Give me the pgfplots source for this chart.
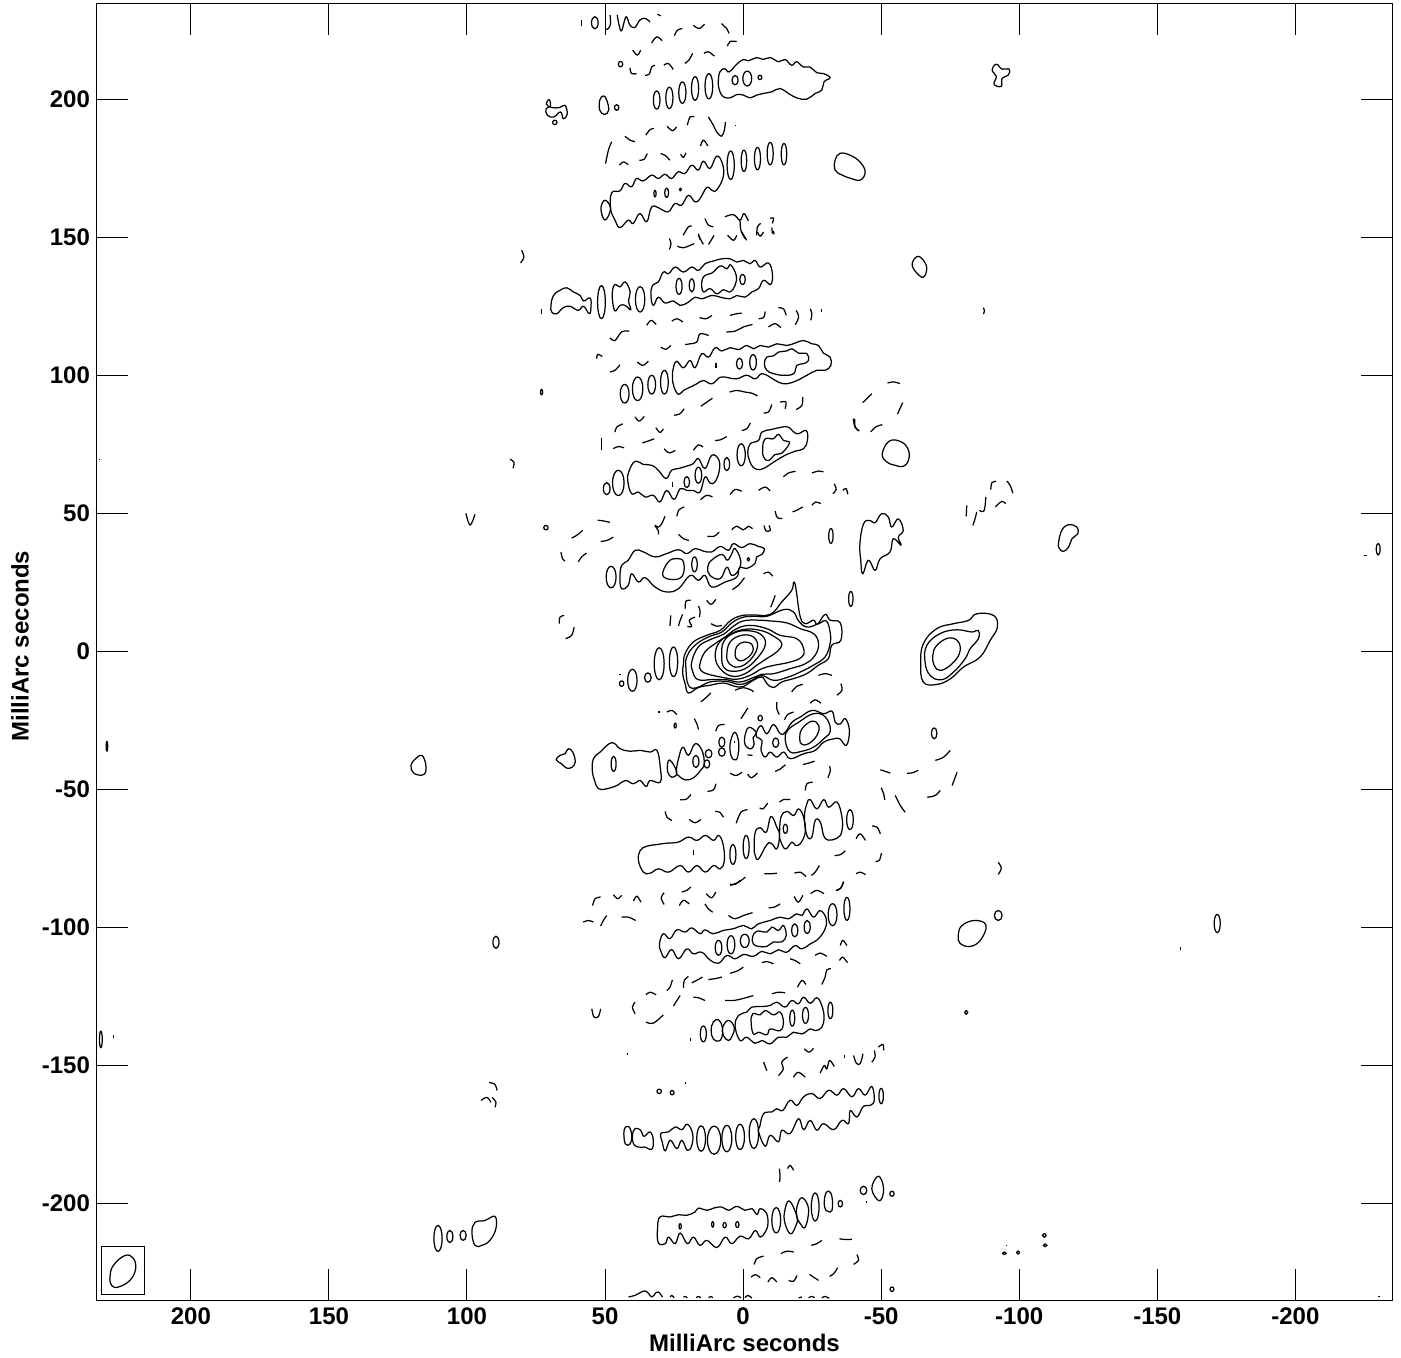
\documentclass[border=0pt]{standalone}
\usepackage{fontspec}
\setmainfont{Liberation Sans}
\usepackage{pgfplots}
\pgfplotsset{compat=1.18}
\tikzset{ct/.style={black,line width=0.62pt,line join=round}}
% closed contour / four point ellipse / open (negative, broken) contour
\newcommand{\ccc}[1]{\addplot[ct,smooth cycle,tension=0.7] coordinates {#1};}
\newcommand{\eee}[1]{\addplot[ct,smooth cycle,tension=1] coordinates {#1};}
\newcommand{\ooo}[1]{\addplot[ct,smooth,tension=0.6] coordinates {#1};}
\begin{document}
\begin{tikzpicture}
\path[use as bounding box] (-48.5pt,-28.5pt) rectangle ++(700.5pt,678.5pt);
\begin{axis}[
    at={(0pt,0pt)},anchor=south west,
    scale only axis,
    width=647.5pt,
    height=648pt,
    x dir=reverse,
    xmin=-235,xmax=234,
    ymin=-235,ymax=234.5,
    xtick={-200,-150,-100,-50,0,50,100,150,200},
    ytick={-200,-150,-100,-50,0,50,100,150,200},
    tick align=inside,
    tick pos=both,
    major tick length=15.5pt,
    tick style={black,line width=0.5pt},
    axis line style={line width=0.5pt},
    minor tick num=0,
    clip=true,
    /pgf/number format/assume math mode=true,
    /pgf/number format/1000 sep={},
    tick label style={font=\bfseries\fontsize{12}{14}\selectfont},
    x tick label style={yshift=-0.5pt},
    every axis x label/.style={at={(axis description cs:0.5,0)},anchor=center,yshift=-21.5pt,font=\bfseries\fontsize{12}{14}\selectfont},
    every axis y label/.style={at={(axis description cs:0,0.5)},rotate=90,anchor=center,yshift=38.5pt,xshift=3pt,font=\bfseries\fontsize{12}{14}\selectfont},
    xlabel={MilliArc seconds},
    ylabel={MilliArc seconds},
]
% beam
\addplot[black,line width=0.4pt] coordinates {(232.4,-215.5)(216.7,-215.5)(216.7,-233)(232.4,-233)(232.4,-215.5)};
\ccc{(229.3,-226.7)(228.1,-222.5)(223.9,-218.9)(220.9,-219.8)(220,-223.7)(222.1,-227.9)(226.3,-230.3)(228.7,-229.7)}

% ---- top strip
\ooo{(58.5,228.7)(58.5,226.7)}
\eee{(54.9,227.7)(53.7,229.9)(52.5,227.7)(53.7,225.5)}
\ooo{(48.2,230.5)(48,227.4)(48.8,225.6)(49.8,225.2)}
\ooo{(45.6,230.5)(44.9,226.8)(44,224.8)(42.4,229.9)(41,226.8)(39.2,226)(37.4,228.7)(35.5,229.3)(33.7,228)}
\ooo{(31,230.8)(29.9,230.2)}
\ooo{(33.1,220.4)(31.3,222.6)(29.3,221.2)}
\ooo{(24.9,223)(23.8,225)(22,225.6)}
\ooo{(18,226.8)(15.9,225.6)(14,227.2)}
\ooo{(7.8,227.4)(6.6,226.2)(5.9,225.6)(5.1,223.8)}
\ooo{(5.7,219.2)(4.7,220.9)(2.3,220.9)}
\ooo{(40,217.8)(38.3,216)(37.1,217.8)}
\ooo{(14.2,216.6)(12.6,217.2)(10.4,215.6)}
\ooo{(21.1,213)(19.6,214.2)(18.3,216.6)}
\eee{(45.2,212.7)(44.4,213.7)(43.6,212.7)(44.4,211.7)}
\ooo{(41,211.4)(40.4,209.3)(38.6,209.3)}
\ooo{(35.5,208.7)(34,209.1)(33.1,211.7)(31.9,212.3)}
\ooo{(28.7,212.3)(27.1,213)(25.3,210.8)}
% band +205
\eee{(32.5,199.7)(31.3,203)(30.1,199.7)(31.3,196.4)}
\eee{(28,200.5)(26.7,204.4)(25.4,200.5)(26.7,196.6)}
\eee{(23.3,202.4)(22,206.3)(20.7,202.4)(22,198.5)}
\eee{(18.7,203.9)(17.4,208.2)(16.1,203.9)(17.4,199.6)}
\eee{(13.8,204.7)(12.4,209.3)(11,204.7)(12.4,200.1)}
\ccc{(9,206.3)(8.4,209.9)(6.6,211.1)(5.1,209.9)(2.3,212.7)(-0.1,214.4)(-1.9,213.9)(-4.9,215.1)(-7.3,214.4)(-9.8,215.1)(-12.8,213.6)(-15.2,214.4)(-17.6,212.3)(-19.4,213.6)(-21.8,211.7)(-24.2,211.7)(-26.7,209.6)(-29.1,209.3)(-31.5,207.8)(-29.3,206.3)(-28.5,203.3)(-26.1,202.1)(-23,200)(-19.4,200.5)(-16.4,202.1)(-13.4,203.9)(-10.4,202.7)(-7.3,202.1)(-4.9,201.5)(-2.5,200.5)(-0.1,201.5)(2.3,201.7)(4.7,200.5)(7.2,200.9)(8.6,203.3)}
\eee{(4,206.9)(2.9,208.6)(1.8,206.9)(2.9,205.2)}
\eee{(0.1,207.5)(-1.5,210.2)(-3.1,207.5)(-1.5,204.8)}
\eee{(-5.4,207.9)(-6.1,208.7)(-6.8,207.9)(-6.1,207.1)}
\ccc{(51.9,199.7)(50.6,201.2)(49.4,199.7)(48.7,196)(50.2,194.5)(51.9,196)}
\eee{(46.6,197)(45.8,198)(45,197)(45.8,196)}
\ccc{(70.2,199.9)(71.2,198.2)(69.4,197)(66.4,197)(64.5,197.8)(63.7,194.6)(65.1,192.9)(66.1,195.4)(68.5,193.6)(70.9,194.2)(71.4,196.6)(69.8,197.4)}
\eee{(69,191.6)(68.2,192.4)(67.4,191.6)(68.2,190.8)}
\ccc{(-90.2,210.5)(-91.7,212.7)(-93.8,210.9)(-96.4,210.9)(-96,208.7)(-93.8,207.6)(-93.5,204.7)(-90.9,205.4)(-91.7,208.3)}
% dashes +185
\ooo{(12.6,193.6)(10.8,190.6)(9.6,188.2)(7.8,186.6)(6.8,188.8)(6.4,191.8)}
\ooo{(2.9,190.4)(2.5,190.4)}
\ooo{(20.2,190.6)(19.2,193.6)(17.7,193.6)}
\ooo{(27.5,190.2)(25.6,188.6)(24.1,190)}
\ooo{(35.2,187)(33.7,189)(32.3,189.4)}
\ooo{(42.8,186.6)(41,185.2)(39.2,184.6)}
\ooo{(47.6,184.6)(48.8,181.5)(49.8,176.7)}
\ooo{(44.8,176.1)(43.4,177.3)(41.6,176.3)}
\ooo{(37.6,177.9)(35.9,178.2)(34.7,180.3)}
\ooo{(29.9,180.3)(28.3,179.7)(26.5,177.9)}
\ooo{(22.6,180.1)(21.7,178.9)(20.7,180.6)}
\ooo{(15.4,183.1)(14.4,185.2)(12.8,183.1)}
% band +170
\eee{(5.8,176.1)(4.5,181.3)(3.2,176.1)(4.5,170.9)}
\eee{(0.7,177.7)(-0.3,181.6)(-1.3,177.7)(-0.3,173.8)}
\eee{(-4.1,178.5)(-5.2,182.6)(-6.3,178.5)(-5.2,174.4)}
\eee{(-8.7,180.3)(-9.8,184.4)(-10.9,180.3)(-9.8,176.2)}
\eee{(-13.8,180.1)(-14.8,184)(-15.8,180.1)(-14.8,176.2)}
\ccc{(51.5,160.4)(50,163.4)(48,160.4)(50,156.2)}
\ccc{(47.6,166.1)(44.6,166.8)(42.8,169.5)(40.4,168.3)(38.6,171.3)(36.2,170.4)(33.1,172.5)(30.7,171.3)(28.3,172.8)(25.9,171.3)(23.5,173.7)(21.1,173.1)(18.6,176.1)(16.2,174.3)(14.4,177.6)(12,174.9)(9.6,179.4)(7.5,176.7)(7.2,171.9)(9.6,167.1)(11.4,167.1)(13.2,168)(15.6,164)(17.4,162.8)(19.8,165.2)(22.3,161.6)(24.7,162.2)(27.1,159.2)(30.1,160.4)(33.1,161)(34.9,155.6)(37.4,158.6)(39.8,155)(41.6,156.2)(44.6,153.5)(46.4,156.2)(48,160.4)}
\eee{(32.3,165.8)(31.9,167)(31.5,165.8)(31.9,164.6)}
\eee{(28.4,166.1)(27.7,167.8)(27,166.1)(27.7,164.4)}
\eee{(23.1,167.3)(22.7,167.8)(22.3,167.3)(22.7,166.8)}
\ccc{(-33.3,177.9)(-35.1,180.4)(-38.8,179.7)(-42.4,177.2)(-44.2,173.6)(-42.4,170.7)(-38.8,171.4)(-35.9,172.5)(-33.3,174.3)}
% dashes +150
\ooo{(6.6,157.4)(3.5,158.2)(1.1,156.2)(-0.3,158.6)(-1.9,155.9)}
\ooo{(1.1,156.2)(0.8,152.5)(-0.7,149.5)}
\ooo{(-4.9,150.7)(-5.2,153.8)(-6.4,155)}
\ooo{(-9.8,156.8)(-11,157)(-10.6,155)}
\ooo{(-10.4,153.5)(-10.6,151.3)}
\ooo{(21.7,150.7)(19.8,153.8)(18.6,154)}
\ooo{(13.8,156.8)(12.6,154.4)(10.8,153.8)}
\ooo{(16.2,151.3)(15.6,149.2)}
\ooo{(26.7,149.5)(26.1,147.7)(26.7,145.6)}
\ooo{(23.8,146.8)(21.6,146.2)(17.7,147.7)}
\ooo{(16.2,150.7)(14.4,147.4)}
\ooo{(12.5,147.4)(10.5,150.7)}
\ooo{(5.6,150.7)(3.5,148.9)(2.3,150.7)}
\ooo{(0.5,151.9)(-1.3,148.9)}
\ooo{(-5.2,151.9)(-6.2,150.4)(-7.4,151.9)}
\ooo{(-11,152.3)(-11.2,151)}
\ooo{(80.2,145.3)(79.4,142.8)(80.6,140.7)}
\ccc{(-61.2,139.9)(-63.4,143.1)(-66.3,139.9)(-65.9,136.2)(-64.1,135.9)}
\ooo{(-87,124.5)(-87.4,123.3)(-87,122.2)}
% band +130
\ooo{(73,124)(73,122.4)}
\ccc{(69.6,125.3)(68.7,128.9)(66.3,130.8)(63.9,131.7)(61.5,130.2)(59,128.9)(57.8,126.9)(55.4,128)(55.1,124.7)(55.7,122.3)(57.8,125)(59.7,123.5)(62.7,125)(65.1,124.5)(67.5,122.3)(69.3,122.9)}
\eee{(52.7,126.5)(51.3,132.5)(49.9,126.5)(51.3,120.5)}
\ccc{(47.3,130.8)(46.4,132.9)(44.6,132)(42.7,133.8)(40.9,130.2)(41.5,127.1)(40.7,123.7)(42.7,125.3)(44.6,125.3)(46.4,123.3)(47.3,127.1)}
\eee{(39,127.5)(37.3,132.1)(35.6,127.5)(37.3,122.9)}
\ccc{(33.4,128.9)(32.8,132.6)(30.7,133.8)(28.9,137.4)(27,136.8)(24.6,139.2)(21.6,137.4)(18.6,139.2)(16.2,138)(13.8,140.4)(10.7,141.4)(7.7,142.2)(4.7,142.2)(2.3,141)(-0.1,141.6)(-2.5,140.4)(-4.4,141.6)(-6.2,139.2)(-9.2,140.7)(-10.6,136.8)(-10,132.9)(-7.4,134.4)(-5.6,131.4)(-3.2,130.2)(-0.7,128.3)(2.3,128.9)(4.7,127.7)(8.3,128.3)(11.3,128.9)(15,127.7)(17.4,128.3)(19.8,126.5)(22.8,125.3)(25.2,126.9)(28.3,126.2)(30.7,128.3)(32.5,125.3)}
\eee{(24.3,132.2)(23.2,135.1)(22.1,132.2)(23.2,129.3)}
\eee{(19.5,132.6)(18.6,135)(17.7,132.6)(18.6,130.2)}
\ccc{(15,133.8)(13.8,136.2)(11.3,137)(8.3,139.6)(5.9,138.6)(4.5,140)(2.5,136.2)(2.9,132.6)(4.7,130.2)(7.1,131)(9.5,129.5)(12,131.4)(14.4,130.2)}
\eee{(1.2,134.7)(0.2,136.6)(-0.8,134.7)(0.2,132.8)}
% dashes +115
\ooo{(34.9,118.1)(33.3,119.9)(31.5,118.4)}
\ooo{(25.8,119.6)(24,120.5)(21.8,119.3)}
\ooo{(15.8,120.9)(13.4,120.5)(11.3,121.7)}
\ooo{(4.7,121.7)(2.3,122.3)(0.5,122.5)}
\ooo{(-5.6,120.5)(-7.4,120.9)(-8,123.1)}
\ooo{(-12.8,124.5)(-14.6,124.1)(-15.6,121.7)}
\ooo{(-19.2,123.5)(-20.1,121.1)(-18.9,118.3)}
\ooo{(-24.3,124.1)(-24.9,122.3)(-24.5,119.9)}
\ooo{(-28.5,124)(-28.5,123)}
\ooo{(-9.2,117.5)(-11.6,118.7)(-13.7,117.2)}
\ooo{(6.1,115.7)(2.9,116)(-0.1,117.5)(-3.4,118.4)}
\ooo{(48.2,113.6)(46.4,112.6)(44,115.7)(41.2,116)}
\ooo{(21,111.1)(19.2,111.4)(16.8,112)(15.6,115)(12.5,114.4)}
\ooo{(29.8,110.2)(28,109.4)(26.2,110.8)}
\ooo{(53,106)(52.7,107.6)(51,106.8)}
\ooo{(48.2,101.2)(46.4,101.8)(44.6,103.8)}
\ooo{(38.3,104.8)(36.3,103.6)(34.3,105.1)}
% band +100
\eee{(44.5,93.3)(42.9,96.7)(41.3,93.3)(42.9,89.9)}
\eee{(40.1,95.1)(38.2,99.4)(36.3,95.1)(38.2,90.8)}
\eee{(34.5,96.6)(33.1,100)(31.7,96.6)(33.1,93.2)}
\eee{(29.9,97.5)(28.5,101.8)(27.1,97.5)(28.5,93.2)}
\ccc{(25.6,99.3)(25.2,103)(24,105.1)(21.6,102.7)(19.2,105.4)(17.4,102.7)(15,107.8)(12.5,106.6)(10.1,110)(7.7,108.8)(4.7,110)(1.7,109.3)(-1.3,110.8)(-3.8,109.6)(-6.2,110.8)(-9.2,110.2)(-12.2,111.4)(-15.8,110.8)(-18.9,111.7)(-21.9,112.6)(-24.9,111.4)(-27.3,110.8)(-29.1,108)(-31.5,106.6)(-31.8,103.6)(-29.7,101.8)(-26.7,101.8)(-23.1,100)(-19.5,98.1)(-15.8,96.9)(-12.8,97.5)(-9.8,99.3)(-6.8,100.6)(-4.4,98.7)(-1.3,100)(2.3,98.7)(5.3,99.1)(8.3,99.3)(11.3,96.9)(14.4,98.1)(16.8,96.9)(19.2,95.7)(21.6,94.5)(23.4,93.1)(25,95.7)}
\ooo{(9.8,104.6)(9.8,102.6)}
\eee{(2.4,104.2)(1.3,106.2)(0.2,104.2)(1.3,102.2)}
\eee{(-2.4,104.7)(-3.6,107.5)(-4.8,104.7)(-3.6,101.9)}
\ccc{(-7.7,104.2)(-8.6,106.6)(-11,107)(-12.8,108.4)(-15.8,108.8)(-17.7,109.6)(-20.1,108)(-23.1,107.8)(-23.7,105.4)(-21.9,104.2)(-19.5,103.6)(-18.3,100.6)(-14.6,100)(-11,100.6)(-8.6,101.8)}
\eee{(73.4,93.9)(73,94.9)(72.6,93.9)(73,92.9)}
% dashes +80
\ooo{(4.9,93.9)(2.3,94.5)(-0.8,93.9)(-3.2,93.5)(-5.2,92.5)}
\ooo{(15.3,88.8)(13.1,90.3)(11.1,91.7)}
\ooo{(25,85.5)(22.8,86.1)(21.4,87.9)}
\ooo{(-7.4,86.3)(-9.2,86.7)(-10.4,89.4)}
\ooo{(-13.4,90.3)(-15.5,90.3)(-15.2,87.9)}
\ooo{(-19.2,87.6)(-21.3,89.1)(-21.6,92.1)}
\ooo{(-40.4,84.2)(-40.6,81.2)(-41.8,80)}
\ooo{(46.4,79.4)(45.8,81.2)(43.6,82.4)}
\ooo{(39.1,84.9)(37.6,83.4)(35.8,85.1)}
\ooo{(31.6,81)(30.1,79.3)(28.9,80.6)}
\ooo{(0.5,80)(-1.3,80.6)(-2.6,82.7)}
\ooo{(10.1,76.4)(8.3,76.6)(5.9,77.8)}
\ooo{(36.5,75.5)(34.3,76.2)(32.2,77)}
\ooo{(51.2,77.4)(51.2,72.8)}
\ooo{(47,73.4)(45.2,74.2)(43.1,73.7)}
\ooo{(28.6,73.4)(26.8,71.9)(24.6,72.8)}
\ooo{(18,72.8)(16.2,74.8)(14.6,74)}
% band +70
\ccc{(-1.7,72.2)(-2.6,75.2)(-5.6,76.4)(-6.8,79.4)(-10.4,80.4)(-14,81.2)(-16.4,81.2)(-19.5,78.8)(-22.8,80)(-23.3,76.4)(-21.9,73.4)(-18.9,72.5)(-15.2,71)(-11,68.5)(-8,66.5)(-6.2,65.8)(-3.8,66.5)(-2.3,69.1)}
\ccc{(-7.1,74)(-8,77)(-11,77)(-12.8,78.6)(-14.6,76.4)(-16.8,75.5)(-14,71.8)(-11.6,71.3)(-9.2,69.1)(-7.4,70.4)}
\eee{(2.2,71.2)(0.7,75.2)(-0.8,71.2)(0.7,67.2)}
\eee{(6.9,67.8)(5.9,70.2)(4.9,67.8)(5.9,65.4)}
\eee{(50.6,58.9)(49.4,61.1)(48.2,58.9)(49.4,56.7)}
\eee{(47.3,61)(45.2,65.6)(43.1,61)(45.2,56.4)}
\ccc{(41.8,62)(41.2,65.6)(39.1,68.8)(36.1,67.7)(33.1,67.4)(30.7,65.6)(27.9,62.6)(25.9,65.6)(23.4,66.2)(20.4,67.1)(18,68)(16.2,69.8)(13.8,66.2)(11.4,71)(8.9,69.6)(8.6,65.6)(10.2,61.3)(12,61)(13.8,63.2)(15.6,57.7)(18,58.3)(20.4,58.3)(22.8,58.9)(25,55)(27.7,58.3)(30.1,54.1)(32.5,56.5)(35.5,55.9)(37.9,57.7)(40.4,57.1)}
\eee{(17.4,63.8)(16.2,66.7)(15,63.8)(16.2,60.9)}
\eee{(21.4,61.3)(20.4,63.3)(19.4,61.3)(20.4,59.3)}
\ooo{(25.5,61.5)(25.5,59.5)}
\ooo{(84.4,69.6)(83,68.5)(83.3,66.3)}
\ooo{(233.2,69.6)(232.8,69.6)}
% dashes +50
\ooo{(-14.6,63.2)(-16.4,64.6)(-19,65.2)}
\ooo{(-24.9,64.6)(-27.3,65.3)(-29.1,65)}
\ooo{(-33,60.7)(-33.7,58.6)(-32.5,57.1)}
\ooo{(-36.1,58.3)(-37.3,59)(-37.9,56.9)}
\ooo{(4.7,56.8)(2.9,58.6)(0.5,58)}
\ooo{(-5.6,58.3)(-8,59.5)(-9.8,58.1)}
\ooo{(15.4,54.9)(13.2,56.5)(11.1,55.9)}
\ooo{(24,48.9)(23.2,51.3)(21.3,52.3)}
\ooo{(28.3,48.9)(29.5,46.2)(30.7,45)(31.9,45.6)(30.7,43.6)(30.7,42.4)}
\ooo{(52.7,47.5)(50.4,47.2)(48.2,46.7)}
\eee{(72.2,44.8)(71.4,45.6)(70.6,44.8)(71.4,44)}
\ooo{(62.1,41)(60.3,42)(58.1,43.8)}
\ooo{(51.6,39.8)(49.2,40.2)(47,41.4)}
\ooo{(23.4,42.4)(21.6,40.8)(19.6,40.2)}
\ooo{(12.9,41.7)(10.5,41.7)(8.7,43.2)}
\ooo{(4.1,44)(2.3,45.3)(-0.1,44)(-1.9,45.3)(-3.4,44.4)}
\ooo{(-7.6,45.6)(-8.3,43.6)(-9.8,43.8)(-9.4,45.6)}
\ooo{(-11.6,50.8)(-12.4,48.4)(-14.2,48.1)}
\ooo{(-17.9,50.5)(-19.4,51.1)(-21.6,52.3)}
\ooo{(-24.9,52.9)(-26.3,54.1)(-28.1,53.5)}
\eee{(-31,41.8)(-31.8,44.5)(-32.6,41.8)(-31.8,39.1)}
\ooo{(66,36)(65.4,33.6)(64.5,32.7)}
\ooo{(59.7,32.4)(58.5,34.2)(56.7,35.6)}
\ooo{(100.4,50)(98.9,45.7)(97.1,49.6)}
% band +30
\eee{(49.6,26.9)(47.8,30.8)(46,26.9)(47.8,23)}
\ccc{(44.6,26.3)(44,31.1)(41.6,33)(39.1,36.6)(36.1,36)(31.9,34.2)(27.7,35.4)(23.4,36.8)(20.4,35.4)(17.4,37.2)(14.4,36.3)(11.4,36)(8.3,38)(5.3,36.6)(3.5,39)(0.5,37.6)(-2.5,39)(-5.5,38)(-7.7,37.2)(-6.8,35.1)(-4.9,34.2)(-4.3,31.8)(-1.3,30)(1.3,30.3)(2.3,26.9)(6.5,25.1)(11.4,23.3)(13.8,27.5)(16.2,25.7)(19.2,27.5)(23.4,22.7)(27.7,21.5)(31.9,23.3)(35.5,26.7)(37.9,25.1)(40.4,28.1)(41.6,23.9)(44,22.7)}
\ccc{(29.1,27.5)(27.1,32.4)(24,33.6)(21.6,32.4)(21.9,27.5)(25.2,26)}
\eee{(18.6,31.5)(17.6,34.2)(16.6,31.5)(17.6,28.8)}
\ccc{(12.8,30.5)(11.4,33)(7.7,35.1)(5.7,33)(4.1,35.4)(2.9,37.2)(0.9,33)(1.7,29.3)(4.1,27.5)(5.9,30.5)(8.3,26.3)(12,27.5)}
\eee{(-1.4,33.3)(-1.9,33.9)(-2.4,33.3)(-1.9,32.7)}
\ooo{(-7.4,28.1)(-9.2,28.7)(-10.7,27.2)}
\ooo{(3.9,22.4)(1.7,23.9)(-0.5,26.7)}
\ooo{(-10,16)(-11,18.5)(-11.6,20.3)}
\eee{(-38.2,19)(-39,21.7)(-39.8,19)(-39,16.3)}
\ooo{(21,15.4)(20.7,18.2)(19,18.5)}
\ooo{(13.2,18.5)(11.6,17)(9.9,18.8)}
\ooo{(16.2,16.4)(15.6,14.8)(15.8,12.4)}
\ooo{(26.5,9.2)(26.2,13)}
\ooo{(23.4,9.2)(22.8,11.2)(21.9,13.4)}
\ooo{(20.2,9)(18.6,9)(19.5,11.2)(17.4,12.4)}
\ooo{(66.6,10)(66.3,12.4)(64.8,13)}
\ooo{(64.3,4.6)(62.1,5.8)(61.2,8.8)}
% ---- central source
\ccc{(21.6,-4.5)(21,-0.8)(18,3.4)(13.2,5.8)(8.3,7.6)(4.7,11)(1.1,12.8)(-3.1,13.2)(-9.8,13.4)(-14,17.9)(-17.6,22.1)(-18.2,24.8)(-18.8,24.5)(-19.4,20.9)(-20.7,12.5)(-22.5,10)(-25.5,11.3)(-26.9,9.8)(-29.7,13.4)(-31.5,11.3)(-35.2,10.3)(-35.4,4)(-32.1,2.2)(-30.9,-2.6)(-27.3,-5)(-23,-8.1)(-18.2,-9.9)(-14,-11.1)(-11,-13.1)(-8.6,-11.7)(-6.8,-9.3)(-3.7,-10.5)(-0.1,-12.7)(3,-12.7)(7.1,-11.5)(12,-12.3)(16.2,-13.1)(19.8,-15.1)(21,-11.7)(21.9,-8.1)}
\ccc{(20.7,-6.3)(20.4,-2)(17.4,2.2)(12.6,5.2)(7.7,7)(4.1,10.3)(0.5,12.2)(-3.7,12.7)(-8.6,12.7)(-14.6,15.1)(-18.2,14.3)(-20.1,11)(-23.1,8.8)(-27.3,10)(-30.1,11)(-31.5,7)(-31.5,2.8)(-29.7,-2)(-25.5,-5)(-20.7,-7.5)(-15.8,-9.5)(-11,-10.5)(-6.8,-8.8)(-3.1,-10.5)(1.1,-12)(6,-10.9)(12,-11.1)(16.8,-13.2)(19.8,-12.3)}
\ccc{(18.6,-3.8)(16.2,1.6)(12,4.2)(7.1,6.2)(3.5,9.1)(-0.1,11)(-5,11.3)(-9.8,11)(-15.8,10.3)(-20.7,8.2)(-25.5,6.4)(-27.3,2.8)(-26.1,-1.4)(-22.5,-4.5)(-17,-6.3)(-11,-8.1)(-6.8,-8.3)(-3.7,-9.5)(1.1,-11.1)(6,-10.3)(10.8,-10.2)(16.2,-10.3)(18.2,-7.5)}
\ccc{(15.6,-4.5)(13.8,-0.2)(10.1,2.8)(6.5,5.2)(2.3,8.2)(-2.5,9.4)(-8.6,8.2)(-13.4,5.8)(-19.4,4.6)(-21.9,1)(-21.3,-2)(-17,-3.9)(-11,-5.1)(-6.8,-6.3)(-2.5,-8.7)(2.3,-10.1)(7.1,-9.5)(12.6,-8.3)(15.3,-6.9)}
\ccc{(10.1,-2)(8.9,2.8)(5.3,5.8)(-0.1,7.9)(-6.2,7.6)(-11,5.5)(-14,2.8)(-12.2,-0.2)(-8.6,-2.6)(-5,-5)(-0.7,-8.1)(4.1,-9)(8.3,-6.3)}
\ccc{(7.7,-2)(7.1,3.4)(2.9,6.8)(-2.5,7.4)(-6.8,5.8)(-8,2.2)(-5,-2.6)(-0.7,-6.3)(4.1,-7.2)(7.1,-5.7)}
\ccc{(5.9,-1.4)(4.7,3.4)(0.5,5.8)(-3.7,5.2)(-5.2,1.6)(-2.5,-3.2)(1.7,-5.7)(5,-4.5)}
\ccc{(2.9,-1.4)(2.3,1.8)(-0.5,3.4)(-3.4,2.2)(-3.1,-0.8)(0,-3.3)(2,-3)}
\eee{(26.7,-3.8)(25.2,1.6)(23.7,-3.8)(25.2,-9.2)}
\eee{(32.2,-4.5)(30.4,1.3)(28.6,-4.5)(30.4,-10.3)}
\eee{(35.7,-9.5)(34.5,-7.8)(33.3,-9.5)(34.5,-11.2)}
\eee{(41.8,-10.5)(40.1,-6.5)(38.4,-10.5)(40.1,-14.5)}
\eee{(44.8,-11.7)(44,-10.7)(43.2,-11.7)(44,-12.7)}
\ooo{(44.8,-8.3)(44.4,-8.3)}
\ooo{(11.6,10)(9.5,9.1)(7.7,9.4)}
\ooo{(-17.6,-14.7)(-19.4,-12.7)(-21.6,-12)}
\ooo{(-27.3,-8.7)(-29.7,-8.1)(-32.1,-8.7)}
\ooo{(-35.4,-11.7)(-35.8,-14.1)(-34,-15.9)}
\ooo{(15.3,-18.3)(13.8,-17.1)(11.7,-15.1)}
\ooo{(2.9,-14.1)(-0.1,-13.2)(-3.1,-14.1)(-3.7,-14.7)}
% second source
\ccc{(-64.3,-4.5)(-65.3,2.8)(-70.1,8.2)(-76.2,10)(-81.6,11.2)(-84.6,13.6)(-90.7,13)(-92.1,8.8)(-89.5,4)(-85.8,-2.1)(-79.8,-5.7)(-75,-10)(-70.1,-12)(-65.3,-11.2)}
\ccc{(-65.9,-3.9)(-66.5,2.1)(-71.3,6.4)(-77.4,7.8)(-82.8,7)(-85.2,7.6)(-85.2,4.6)(-82.2,0.9)(-80.4,-2.7)(-76.2,-7.5)(-71.9,-10.3)(-67.7,-8.7)}
\ccc{(-68.7,-1.5)(-70.1,2.1)(-74.4,4.8)(-78,3.4)(-78.3,-0.9)(-75,-5.1)(-71.3,-6.9)(-69.2,-5.1)}
% right side features
\ooo{(-43.3,90.1)(-44.8,91.5)(-46.6,93.3)}
\ooo{(-52.3,97.2)(-54.4,97.6)(-56.8,97)}
\ooo{(-55.9,85.9)(-56.8,87.9)(-57.8,90.1)}
\ooo{(-39.9,84.3)(-40.5,81.3)(-42.1,79.8)}
\ooo{(-46.2,79.5)(-48.1,81.3)(-50.4,82.1)}
\ccc{(-50.4,71.6)(-53,76.2)(-57.4,75.8)(-59.9,72.8)(-59.9,69.2)(-58,67)(-55,67.4)(-52,68.6)}
\ooo{(-80.8,48.9)(-81,52.9)}
\ooo{(-83.2,45.6)(-84,48)(-84.6,50.5)}
\ooo{(-85.6,51)(-87.3,51)(-87.9,55.9)}
\ooo{(-89.7,58.6)(-90.1,61.1)(-91.6,61.6)}
\ooo{(-95.5,61.7)(-96.7,60.1)(-97.7,57.3)}
\ooo{(-91.3,52.3)(-93.7,54.3)(-95.1,53.5)}
\ccc{(-114.2,39)(-115.4,43.8)(-117.9,45.9)(-120.9,45)(-121.2,42.6)(-119.1,40.8)(-117.9,37.8)(-116,36.2)(-114.6,37.2)}
\ccc{(-42.3,39)(-43.6,46.2)(-46,47.4)(-47.8,46.6)(-50.2,49.9)(-52.6,48.6)(-53.8,45)(-56.2,48)(-58,43.8)(-56.2,41.4)(-57.2,38.4)(-54.4,40.8)(-53.2,36)(-49.6,33.5)(-47.8,29.3)(-45.4,33)(-43.3,28.1)(-42.6,33)}
\eee{(-229.3,37)(-230,39.1)(-230.7,37)(-230,34.9)}
\ooo{(-225,34.8)(-226,34.8)}
% ---- band -30
\ccc{(67.7,-39.3)(66.3,-37.7)(64.5,-37.1)(63.3,-35.3)(61.7,-36.5)(60.8,-40.1)(62,-42)(63.9,-42.3)(65.7,-40.8)}
\ccc{(54.6,-43.2)(54.2,-38.9)(51.8,-36.5)(47.6,-33.1)(44.5,-35.3)(40.9,-36.2)(37.3,-35.9)(33.7,-36.5)(31.2,-35.9)(30,-42)(30,-47.4)(33.7,-46.8)(35.1,-49)(37.3,-46.8)(39.7,-48)(42.7,-46.8)(45.7,-48.6)(49.4,-49.8)(52.4,-49.8)(53.8,-46.8)}
\eee{(47.8,-40.8)(46.9,-38.1)(46,-40.8)(46.9,-43.5)}
\ccc{(27.4,-43.2)(26.7,-39.3)(24,-43.8)(25.8,-45.6)}
\ccc{(24.2,-43.8)(23.4,-38.9)(21.8,-34.7)(19.8,-37.7)(17.4,-33.5)(14.9,-35.9)(14.1,-40.8)(15.5,-43.2)(17.9,-45.8)(21,-46.6)(23.4,-45)}
\eee{(18.2,-39.9)(17.1,-37.7)(16,-39.9)(17.1,-42.1)}
\eee{(13.7,-37.1)(12.5,-35.6)(11.3,-37.1)(12.5,-38.6)}
\eee{(14.1,-40.8)(13.1,-39.3)(12.1,-40.8)(13.1,-42.3)}
\eee{(8.8,-32.9)(7.7,-31.1)(6.6,-32.9)(7.7,-34.7)}
\eee{(8.9,-36.5)(7.7,-35)(6.5,-36.5)(7.7,-38)}
\ccc{(4.7,-33.5)(3.1,-29.3)(1.6,-32.9)(2,-38.3)(3.2,-39.3)(4.4,-37.7)}
\ooo{(3.1,-32.6)(3.1,-33.2)}
\ccc{(-0.5,-32.9)(-1,-29.3)(-2.3,-27.5)(-4.8,-29.5)(-3.6,-31.3)(-4,-33.5)(-3,-35.3)(-1.4,-34.7)}
\ccc{(-4.8,-29.5)(-6.5,-26.9)(-8.6,-29.9)(-11,-26.5)(-13.5,-29.9)(-15.3,-29.3)(-17.7,-25.7)(-20.7,-23.8)(-25,-21.4)(-29.2,-22.6)(-32.2,-21.7)(-33.4,-25.7)(-35.2,-26.3)(-37,-24.4)(-38.5,-28.7)(-37.4,-34.1)(-35,-31.7)(-32.8,-31.7)(-29.2,-32.9)(-26.1,-35.9)(-21.9,-37.1)(-17.1,-38.9)(-14.7,-36.5)(-12.2,-38.3)(-9.8,-36.5)(-8,-38.3)(-6.5,-35.9)(-6.8,-32.3)(-5,-31.1)}
\ccc{(-15.3,-32.3)(-16.1,-28.7)(-20.1,-25.7)(-25.5,-22.6)(-29.8,-23.8)(-31.6,-28.7)(-29.2,-31.7)(-25.5,-34.7)(-21.3,-36.2)(-17.1,-36.5)}
\ccc{(-20.5,-31.7)(-21.3,-28.1)(-24.9,-25.3)(-27.4,-26.9)(-26.7,-30.5)(-23.7,-33.5)(-21.3,-33.7)}
\eee{(-10.7,-33.1)(-11.8,-31.4)(-12.9,-33.1)(-11.8,-34.8)}
\eee{(-5.4,-24.2)(-6.2,-23.2)(-7,-24.2)(-6.2,-25.2)}
\eee{(-68.2,-29.7)(-69.2,-27.7)(-70.2,-29.7)(-69.2,-31.7)}
\ooo{(30.9,-22)(30.2,-22)}
\ooo{(27.6,-22)(25.8,-21.4)(24,-22.9)}
\eee{(25,-26.9)(24.6,-26)(24.2,-26.9)(24.6,-27.8)}
\ooo{(17.7,-24.4)(16.7,-26.3)(16.2,-28.3)}
\ooo{(9.9,-28.9)(8.9,-26.9)(6.7,-26.5)}
\ooo{(0.8,-24.4)(-0.4,-22.6)(-1.7,-20.5)}
\ooo{(-12.2,-18.4)(-12.2,-20.8)(-13.1,-22.9)}
\ooo{(-15,-24.8)(-16.1,-22.9)(-18.3,-22)}
\ooo{(-24.3,-18.8)(-26.1,-17.6)(-28.2,-18.8)}
\ooo{(-1.6,-37.5)(-3.4,-37.7)}
\ooo{(4.7,-44.1)(2.6,-45)(0.4,-43.8)}
\ooo{(-1.6,-44.4)(-3,-45.8)(-5.2,-44.1)}
\ooo{(-11.6,-43.5)(-13.5,-42.6)(-15.3,-41.1)}
\ooo{(-21.7,-41)(-23.7,-40.5)(-25.9,-39.8)}
\ooo{(-31.3,-41.6)(-31.6,-43.2)(-30.7,-45.8)}
\ooo{(-49.7,-42.9)(-51.5,-43.5)(-53.3,-44.1)}
\ooo{(-50,-49.4)(-50.9,-51.6)(-51.3,-53.8)}
\ooo{(-59.4,-44.2)(-61.4,-44)(-63.4,-43.1)}
\ooo{(-66.7,-52.9)(-69.6,-52.2)(-71.4,-50.4)}
\ooo{(-75.7,-48.6)(-76.5,-46.5)(-77.5,-43.8)}
\ooo{(-69.6,-39.5)(-72.5,-38.4)(-75,-35.9)}
\ooo{(-55.1,-52.2)(-56.9,-55.8)(-58.7,-58.3)}
\ooo{(-22.5,-50.4)(-23.1,-48)(-25.2,-47.4)}
\ooo{(12.9,-50.7)(10.7,-50.2)(9.9,-48)}
\ooo{(22.8,-53.8)(20.6,-53.6)(18.9,-51.9)}
\ooo{(28.2,-58)(27.6,-60.1)(25.8,-61.3)}
\ooo{(19.5,-60.9)(17.4,-62.1)(15.3,-60.9)}
\ooo{(10.1,-58)(8.5,-58.3)(7.1,-60.1)}
\ooo{(2.5,-62.3)(0.8,-58.3)(-1.6,-57.4)}
\ooo{(-6,-56.7)(-7.2,-57.1)(-8.9,-55)}
\ooo{(-13.2,-54.6)(-14.7,-53.7)(-17.1,-53.7)}
% band -70
\ccc{(37.9,-75.8)(37.3,-72.2)(34.9,-70.6)(31.2,-70)(27.6,-69.5)(23.4,-69.1)(19.8,-67.3)(16.7,-68.5)(13.7,-66.7)(10.7,-68.5)(8.9,-66.7)(7.3,-69.7)(6.8,-75.8)(8.3,-78.8)(10.7,-77.6)(13.7,-80)(16.7,-77.6)(19.8,-80)(22.8,-77.6)(27,-80)(30.6,-78.8)(33.7,-80.4)(36.1,-80)}
\ooo{(17.9,-72)(17.9,-73.6)}
\eee{(4.8,-73.6)(3.7,-70)(2.6,-73.6)(3.7,-77.2)}
\eee{(0,-70.9)(-1.1,-66.7)(-2.2,-70.9)(-1.1,-75.1)}
\ccc{(-4,-71)(-4.4,-65.5)(-6.2,-63.9)(-8.4,-65.5)(-10.1,-59.8)(-12.2,-63.7)(-13.2,-66.7)(-12.2,-71.6)(-10.4,-69.7)(-8.6,-70)(-5.6,-75.2)(-4.4,-74)}
\ccc{(-13.2,-66.7)(-13.7,-60.1)(-15.9,-58)(-18.3,-59.5)(-20.1,-57.1)(-21.9,-60.1)(-22.5,-65.5)(-20.7,-69.7)(-18.9,-70.3)(-17.7,-69.1)(-15.3,-71.6)(-13.5,-68.5)}
\eee{(-14.5,-64.3)(-15.3,-62.6)(-16.1,-64.3)(-15.3,-66)}
\ccc{(-22.2,-60.1)(-23.1,-55.2)(-24.3,-53.7)(-26.7,-57.1)(-29.2,-53.7)(-31,-56.5)(-34,-54.6)(-35.8,-60.1)(-35.8,-64.9)(-34.2,-67.6)(-29.8,-67.9)(-28,-61.9)(-26.1,-61.3)(-24.9,-67.3)(-23.1,-66.7)}
\eee{(-37.5,-61)(-38.7,-57.4)(-39.9,-61)(-38.7,-64.6)}
\ooo{(-40.9,-67.9)(-42.4,-66.1)(-44.3,-68.5)}
\ooo{(-46.7,-63.3)(-48.5,-63.7)(-49.7,-66.1)}
\ooo{(-33.1,-74)(-35.4,-73.6)(-37,-72.2)}
\ooo{(-47.9,-76.1)(-49.3,-75.8)(-50.1,-73.1)}
\ooo{(-40.9,-80.6)(-42.4,-80)(-44.3,-80.9)}
\ooo{(-7.7,-80.6)(-9.8,-80.6)(-12.2,-80.4)}
\ooo{(-18.6,-80.4)(-20.7,-80)(-22.8,-81.6)}
\ooo{(-24.7,-81.2)(-26.1,-80)(-27.6,-77.6)}
\ooo{(-33.6,-86.7)(-35.2,-86)(-36.4,-83.6)}
\ooo{(4.7,-84.8)(1.6,-83.6)(-0.8,-81.8)}
\ooo{(-92.4,-76.4)(-93.5,-78.6)(-92.4,-80.8)}
% dashes -90
\ooo{(54.5,-92.1)(53.6,-89.6)(51.6,-89)}
\ooo{(47,-88.2)(45.4,-89.6)(44,-88.4)}
\ooo{(39.7,-90.5)(38.5,-88.7)(37,-90.9)}
\ooo{(28.6,-87.5)(29.7,-89.3)(28.6,-91.7)}
\ooo{(22.2,-87.2)(20.4,-86.6)(19,-85.4)}
\ooo{(23.1,-92.1)(21.6,-90.2)(19.5,-91.5)}
\ooo{(13.8,-91.5)(12.6,-93.3)(11,-94.5)}
\ooo{(13.4,-87.8)(11.4,-89.3)(9.9,-87.2)}
\ooo{(4.7,-84.4)(2.7,-84.4)(1.1,-83)}
\ooo{(5.3,-95.7)(2.9,-96.9)(-0.1,-95.7)(-3.4,-94.7)}
\ooo{(-9.2,-92.9)(-11.2,-92.7)(-13.4,-91.5)}
\ooo{(-18.5,-88.8)(-20,-90.9)(-21.6,-88.4)}
\ooo{(-24.5,-87.8)(-26.7,-86.6)(-29.3,-87.8)}
\ooo{(-33.7,-86.6)(-35.4,-85.7)(-36.4,-83.4)}
\ooo{(57.9,-98.1)(56,-97.5)(54.2,-98.1)}
\ooo{(51.6,-99.5)(50.6,-97.5)(49.4,-95.7)}
\ooo{(44,-96.3)(41.6,-96.3)(38.9,-97.5)}
% band -105
\eee{(-30.8,-95.4)(-32.4,-91.4)(-34,-95.4)(-32.4,-99.4)}
\eee{(-36.5,-93.3)(-37.6,-89.1)(-38.7,-93.3)(-37.6,-97.5)}
\ccc{(30.3,-106)(28.9,-102.3)(26.5,-104.1)(24,-100.9)(21,-101.7)(18.6,-100.2)(15.6,-102.3)(13.8,-100.9)(10.8,-102.3)(7.1,-101.1)(3.5,-100.5)(-0.1,-99.3)(-3.1,-100.5)(-5.6,-98.7)(-9.8,-97.5)(-13.4,-96.3)(-16.4,-96.9)(-19.4,-95.1)(-21.3,-95.7)(-23.1,-93.3)(-25.5,-96.3)(-27.9,-93.9)(-30.1,-96.9)(-29.7,-100.5)(-27.3,-104.1)(-24.3,-106)(-21.3,-107.8)(-18.8,-106.6)(-15.8,-109)(-12.8,-108.1)(-9.8,-109.6)(-6.8,-108.7)(-3.7,-110.5)(-0.1,-109.8)(2.9,-111.4)(5.9,-110.2)(8.9,-113)(12,-111.8)(15,-109)(18,-109.6)(20.4,-107.8)(23.4,-111.4)(25.9,-108)(28.3,-111)(29.8,-108.6)}
\eee{(10.1,-107.4)(8.9,-104.7)(7.7,-107.4)(8.9,-110.1)}
\eee{(5.8,-106.3)(4.4,-103)(3,-106.3)(4.4,-109.6)}
\eee{(1,-104.9)(-0.6,-102.5)(-2.2,-104.9)(-0.6,-107.3)}
\ccc{(-3.4,-103.5)(-5,-101.4)(-8.6,-101.7)(-10.4,-99.9)(-12.8,-101.1)(-14.6,-99.3)(-15.6,-102.9)(-14,-105.3)(-11,-105.3)(-8.6,-106.9)(-5.6,-106.9)(-3.7,-106)}
\eee{(-17.6,-101.1)(-18.7,-98.7)(-19.8,-101.1)(-18.7,-103.5)}
\eee{(-22.1,-99.9)(-23.2,-97.5)(-24.3,-99.9)(-23.2,-102.3)}
\eee{(90.6,-105.4)(89.5,-103.2)(88.4,-105.4)(89.5,-107.6)}
\ccc{(-77.9,-102.9)(-79.3,-99.3)(-84.1,-97.5)(-88,-99.3)(-85.9,-104.7)(-82.2,-106.9)(-78.6,-105.8)}
\eee{(-91,-95.7)(-92.4,-93.9)(-93.8,-95.7)(-92.4,-97.5)}
\eee{(-170.6,-98.6)(-171.7,-95.3)(-172.8,-98.6)(-171.7,-101.9)}
\ooo{(-158.3,-107)(-158.3,-108.2)}
% dashes -120
\ooo{(-35.2,-106.6)(-36.1,-104.7)(-37.6,-106.6)}
\ooo{(-34.9,-112)(-36.1,-110.8)(-37.8,-112.8)}
\ooo{(-26.1,-110.2)(-27.9,-109.3)(-30.3,-110.5)}
\ooo{(-17,-111.4)(-18.8,-112)(-20.7,-113.2)}
\ooo{(-6.8,-112.8)(-8.6,-112.4)(-11,-113.2)}
\ooo{(4.7,-116.6)(2.3,-115.9)(-0.1,-114.4)}
\ooo{(12.6,-118.9)(10.2,-118.6)(7.7,-118)}
\ooo{(18.6,-120.1)(16.8,-119.2)(14.7,-118)}
\ooo{(21.6,-121.9)(21.3,-119.2)(19.8,-117.8)}
\ooo{(27.7,-122.9)(26.5,-121.7)(25.6,-119)}
\ooo{(35.2,-124.4)(33.7,-123.5)(31.5,-124.4)}
\ooo{(18,-125.3)(16.2,-125.5)(13.8,-126.5)}
\ooo{(6.5,-126.5)(3.5,-126.5)(0.5,-125.9)(-3.7,-124.7)}
\ooo{(-10.4,-124.1)(-12.8,-123.5)(-15.2,-123.7)}
\ooo{(-19.7,-121.7)(-21.3,-119.2)(-22.7,-120.7)}
\ooo{(-28.5,-120.7)(-29.7,-118)(-30.3,-115.4)(-31.8,-115)}
\ooo{(25.2,-128.5)(24,-126.5)(22.8,-124.7)}
\ooo{(39.1,-127.1)(40.1,-128.9)(39.1,-131.3)}
\ooo{(54.8,-129.5)(54,-132.5)(52.4,-132.3)(51.6,-129.5)}
\ooo{(35.2,-134.3)(32.5,-134.7)(28.9,-131.7)}
\eee{(-80.2,-130.8)(-80.8,-130.1)(-81.4,-130.8)(-80.8,-131.5)}
% band -135
\ooo{(19.1,-140.2)(19.1,-141)}
\eee{(15.5,-138.6)(14.4,-135.7)(13.3,-138.6)(14.4,-141.5)}
\ccc{(11.6,-137.4)(10.8,-134.3)(8.9,-133.5)(7.5,-136.2)(7.7,-139.8)(8.9,-141.2)(10.8,-140.4)}
\ccc{(7.4,-136.2)(5.3,-133.7)(3.2,-136.2)(3.9,-139.2)(5.3,-141)(7.1,-139.2)}
\ccc{(2.9,-135.8)(1.7,-131.9)(-1.3,-130.7)(-3.1,-128.9)(-6.8,-128.7)(-9.8,-128.3)(-12.2,-127.1)(-15.2,-128.9)(-17.6,-126.5)(-20,-127.7)(-21.9,-125.3)(-24.3,-127.5)(-26.7,-125.5)(-28.5,-128.3)(-29.3,-132.5)(-28.5,-136.2)(-26.1,-137.4)(-24.3,-136.8)(-21.3,-138.6)(-18.2,-138)(-15.8,-139.8)(-12.8,-139.8)(-9.8,-142.2)(-6.8,-141)(-4.3,-142)(-1.3,-139.8)(1.1,-141)}
\ccc{(-2.9,-134.3)(-3.5,-131.3)(-6.2,-131.7)(-8,-130.1)(-11,-131.7)(-13.4,-130.7)(-14.6,-134.3)(-13.4,-137.4)(-9.8,-136.8)(-8.6,-138.9)(-5.6,-138)(-3.7,-138.6)}
\eee{(-16.9,-132.9)(-17.8,-130)(-18.7,-132.9)(-17.8,-135.8)}
\eee{(-21.5,-131.9)(-22.6,-129)(-23.7,-131.9)(-22.6,-134.8)}
\eee{(-30.7,-130.1)(-31.6,-127.1)(-32.5,-130.1)(-31.6,-133.1)}
\ooo{(41.9,-145.4)(41.9,-146.2)}
\ooo{(-7.4,-148.8)(-8.6,-151.9)}
\ooo{(-12.8,-153.7)(-14.6,-151.3)(-14,-148.8)(-16.1,-147)}
\ooo{(-18.2,-154.3)(-20,-152.5)(-22.5,-154.3)}
\ooo{(-22.2,-144)(-23.9,-145.2)(-25.5,-143.8)}
\ooo{(-27.9,-152.8)(-29.4,-150)(-30.3,-151.3)(-31.3,-148.2)(-33,-150.4)}
\ooo{(-36.6,-146.2)(-36.6,-147.4)}
\ooo{(-40,-146.4)(-41,-149.2)(-42.4,-149.4)(-43.4,-145.8)}
\ooo{(-46.6,-148.8)(-47.8,-147)(-47.5,-144.6)}
\ooo{(-49,-143.4)(-50.6,-142.4)(-50.9,-144.6)}
\ooo{(20.8,-156.1)(20.8,-156.7)}
% band -170
\eee{(31.2,-159.4)(30.4,-158.6)(29.6,-159.4)(30.4,-160.2)}
\eee{(26.4,-159.9)(25.7,-159.1)(25,-159.9)(25.7,-160.7)}
\eee{(-49.2,-161.1)(-50,-158.3)(-50.8,-161.1)(-50,-163.9)}
\ccc{(43.1,-173.5)(41.5,-172.1)(40.3,-175.3)(40.9,-178.4)(42.7,-178.4)}
\ccc{(40.1,-175.3)(39.1,-172.9)(37.1,-173.5)(35.9,-175.7)(33.7,-174.1)(32.5,-177.1)(33.1,-180.4)(35.5,-179.6)(38,-179.6)(39.7,-178.4)}
\ccc{(29.3,-177.7)(29.8,-174.7)(27,-174.1)(24.6,-172.3)(22.2,-173.3)(20.2,-171.3)(18.3,-174.7)(18.6,-179)(20.2,-180.8)(22.2,-177.1)(24,-180.2)(26.4,-177.1)(28.2,-181)}
\eee{(16.8,-176.5)(15.2,-171.9)(13.6,-176.5)(15.2,-181.1)}
\eee{(12.9,-177.1)(10.5,-172)(8.1,-177.1)(10.5,-182.2)}
\eee{(7.7,-176.5)(5.9,-171.7)(4.1,-176.5)(5.9,-181.3)}
\eee{(2.7,-175.9)(1.1,-171.3)(-0.5,-175.9)(1.1,-180.5)}
\eee{(-2.2,-174.7)(-3.9,-169.3)(-5.6,-174.7)(-3.9,-180.1)}
\ccc{(-6,-172.3)(-7.4,-167.5)(-10.4,-166.9)(-12.2,-165.7)(-14.4,-166.3)(-17,-162.6)(-19.5,-164.5)(-21.9,-161.4)(-24.9,-160.2)(-27.9,-162)(-31,-159)(-34,-160.8)(-36.4,-158.4)(-39.4,-161.4)(-41.8,-158.4)(-44.2,-160.8)(-46.6,-157.6)(-47.5,-162.6)(-46,-164.5)(-43.6,-164.8)(-41.2,-168.7)(-38.8,-166.3)(-38.2,-171.1)(-35.8,-169.9)(-32.8,-173.3)(-29.1,-171.1)(-26.7,-173.5)(-24.3,-169.9)(-21.9,-173.3)(-20.1,-169.3)(-17,-174.7)(-14,-173.5)(-12.8,-177.7)(-9.8,-175.3)(-8,-179.3)(-5.6,-174.1)}
\ooo{(-13.1,-187.4)(-13.4,-189.8)(-13.2,-192.2)}
\ooo{(-16.1,-187.4)(-17,-186.2)(-18.3,-188)}
\ooo{(94.9,-162.7)(92.8,-161.6)(91.3,-163.4)}
\ooo{(92,-156.2)(89.9,-156.9)(89.1,-159.1)}
\ooo{(90.9,-161.6)(89.5,-163.4)(89.9,-165.2)}
\eee{(233.1,-140.6)(232.6,-137.6)(232.1,-140.6)(232.6,-143.6)}
\ooo{(227.9,-139.1)(227.9,-139.9)}
\eee{(230.7,-34.4)(230.4,-32.6)(230.1,-34.4)(230.4,-36.2)}
\ccc{(120.3,-41.3)(118.5,-38.8)(116.3,-37.7)(114.9,-41.3)(115.6,-44.6)(119.2,-44.2)}
% band -205
\eee{(-42.4,-195.3)(-43.6,-193.8)(-44.8,-195.3)(-43.6,-196.8)}
\ccc{(-46.6,-194.7)(-49,-190.1)(-50.9,-194.7)(-49.4,-199.1)}
\eee{(-53.1,-196.5)(-53.9,-195.6)(-54.7,-196.5)(-53.9,-197.4)}
\eee{(-34.4,-200.1)(-35.2,-198.9)(-36,-200.1)(-35.2,-201.3)}
\ooo{(-44.8,-199.2)(-44.8,-199.8)}
\ccc{(-29.5,-201.3)(-29.7,-197.1)(-31,-195.5)(-32.2,-197.7)(-32.2,-202.5)(-30.7,-202.9)}
\eee{(-24.7,-201.3)(-26.1,-196.2)(-27.5,-201.3)(-26.1,-206.4)}
\ccc{(-19.5,-201.3)(-21.3,-197.9)(-23.7,-201.9)(-22.5,-208.6)(-20.7,-207.3)(-19.5,-204.9)}
\ccc{(-15,-203.1)(-16.7,-199.1)(-19.5,-204.9)(-18.9,-208.6)(-17.1,-211)(-15.2,-207.3)}
\eee{(-10.4,-206.1)(-12,-201.5)(-13.6,-206.1)(-12,-210.7)}
\ccc{(31,-209.2)(30.1,-204.9)(26.4,-204.9)(23.4,-204.1)(20.4,-204.3)(17.4,-203.1)(16.2,-201.7)(13.1,-202.5)(10.7,-201.7)(7.7,-201.3)(5.3,-202.5)(2.3,-201.1)(-0.7,-202.5)(-3.2,-201.9)(-5,-204)(-6.2,-201.9)(-8.4,-203.4)(-9,-207.3)(-8,-210.4)(-6.2,-212.2)(-4.4,-209.8)(-2,-212.8)(1.1,-211.9)(4.1,-214.6)(6.5,-212.2)(9.5,-216)(13.1,-213.4)(15.6,-215.2)(18,-212.2)(20.2,-214.6)(22.8,-210.7)(24.6,-214.6)(27,-212.2)(28.2,-214.6)(30.7,-214.3)}
\eee{(23.2,-208.3)(22.8,-207.3)(22.4,-208.3)(22.8,-209.3)}
\eee{(11.4,-207.6)(11,-206.6)(10.6,-207.6)(11,-208.6)}
\eee{(7.3,-207.9)(6.7,-206.9)(6.1,-207.9)(6.7,-208.9)}
\eee{(2.7,-207.7)(2.1,-206.6)(1.5,-207.7)(2.1,-208.8)}
\eee{(112,-212.7)(110.5,-208)(109,-212.7)(110.5,-217.4)}
\eee{(107.3,-212)(106.2,-209.8)(105.1,-212)(106.2,-214.2)}
\eee{(102.5,-211.6)(101.4,-209.8)(100.3,-211.6)(101.4,-213.4)}
\ccc{(98.2,-210.5)(97.1,-206.9)(93.5,-206.2)(89.9,-204.7)(89.5,-209)(91.7,-213.4)(94.6,-215.2)(97.1,-215.2)}
\eee{(-108.4,-211.6)(-109.1,-210.9)(-109.8,-211.6)(-109.1,-212.3)}
\eee{(-108.7,-215.2)(-109.4,-214.7)(-110.1,-215.2)(-109.4,-215.7)}
\eee{(-99,-217.8)(-99.6,-217.2)(-100.2,-217.8)(-99.6,-218.4)}
\eee{(-93.9,-218.1)(-94.6,-217.6)(-95.3,-218.1)(-94.6,-218.6)}
\ooo{(-95.3,-215)(-95.3,-215.4)}
% dashes -225
\ooo{(-4,-222.1)(-5,-220)(-7.4,-219.1)}
\ooo{(-13.7,-218.2)(-15.8,-217.3)(-18.3,-217.6)}
\ooo{(-24.7,-215.2)(-26.7,-214.6)(-28.5,-213.4)}
\ooo{(-34.9,-212.8)(-37,-213.1)(-39.4,-213)}
\ooo{(-41.2,-218.5)(-41.8,-220.6)(-40,-222.1)}
\ooo{(-31.3,-226.4)(-32.8,-225.5)(-34.2,-223.3)}
\ooo{(-24,-225.7)(-25.5,-226.7)(-27.3,-227.9)}
\ooo{(-16.5,-227.9)(-18.3,-228.2)(-19.5,-226.1)}
\ooo{(-9,-228.5)(-10.4,-226.9)(-12.2,-228.5)}
\ooo{(-2.9,-226.7)(-4.4,-225.8)(-6.2,-226.9)}
\eee{(-53.2,-231.1)(-53.9,-230.3)(-54.6,-231.1)(-53.9,-231.9)}
% bottom edge
\ooo{(41.5,-233.9)(39.1,-233.3)(35.5,-231.7)(33.1,-233.9)(31.9,-232.7)(30.7,-232.1)(29.2,-233.9)}
\ooo{(26.4,-233.9)(25.8,-233.3)(25,-234.2)}
\ooo{(21.6,-233.9)(21,-233.7)(20.2,-234.2)}
\ooo{(17,-234.2)(16.2,-233.7)(15.3,-234.2)}
\ooo{(12.5,-234.2)(11.7,-233.7)(11,-234.2)}
\ooo{(3.5,-234.2)(2,-233.6)(0.8,-234.2)}
\ooo{(-0.7,-234.2)(-1.7,-233.3)(-3.2,-234.3)}
\ooo{(-20.1,-234.2)(-21.3,-233.9)}
\ooo{(-23.7,-234.2)(-24.9,-233.7)(-25.9,-234.2)}
\ooo{(-28.5,-234.2)(-29.7,-233.7)(-31.2,-234.4)}
\ooo{(-230,-233.8)(-230.8,-233.8)}
\end{axis}
\end{tikzpicture}
\end{document}
